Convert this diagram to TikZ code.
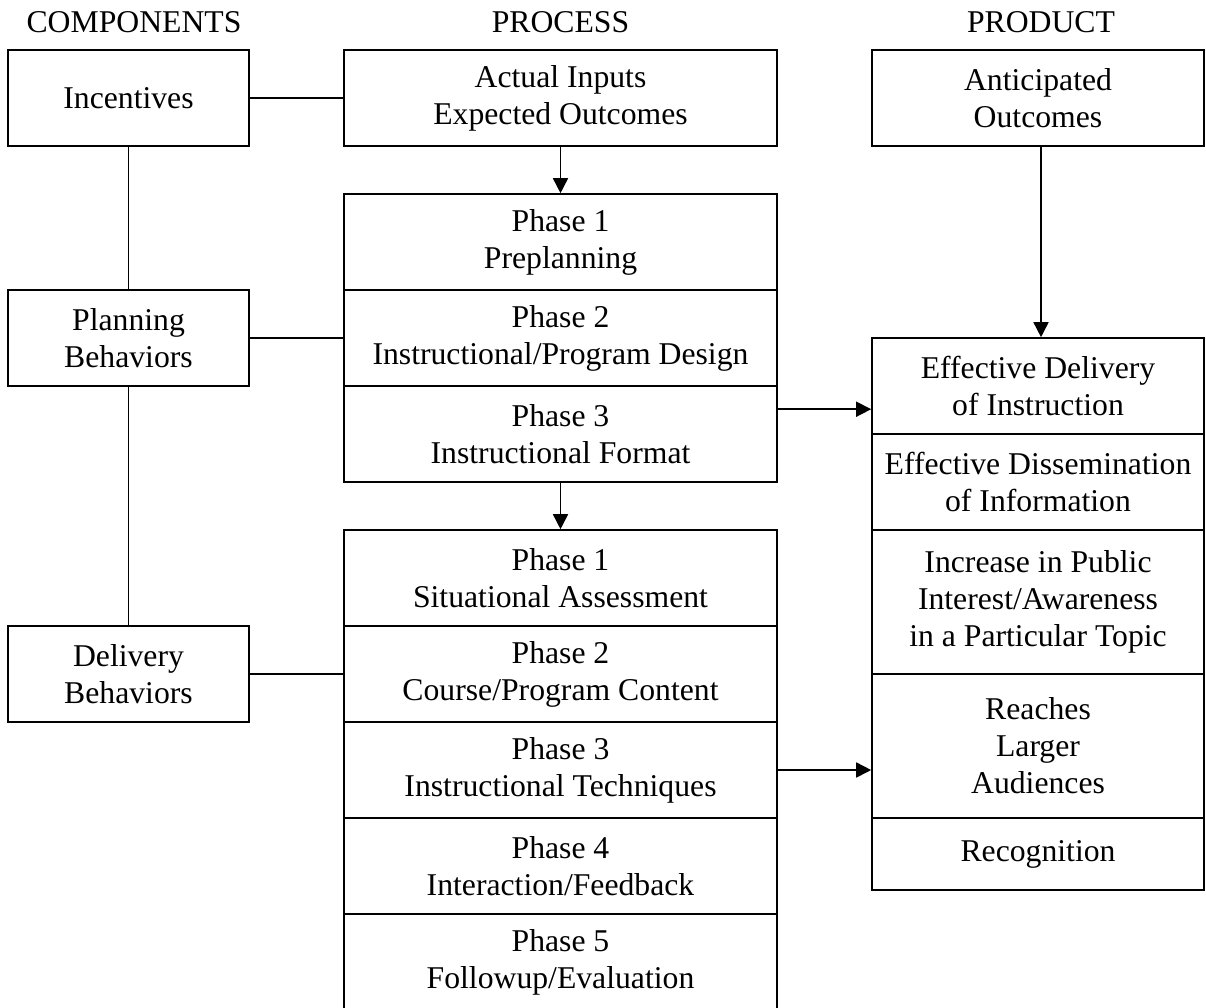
\documentclass[tikz,border=0pt]{standalone}
\usepackage{fontspec}
\setmainfont{Liberation Serif}
\usetikzlibrary{arrows.meta}
\begin{document}
\begin{tikzpicture}[x=1pt,y=-1pt,
  box/.style={draw, line width=1.6pt, inner sep=0pt, align=center,
    font=\fontsize{31.7}{37}\selectfont, minimum height=96pt},
  lbox/.style={box, minimum width=241pt},
  pbox/.style={box, minimum width=433pt},
  rbox/.style={box, minimum width=332pt},
  head/.style={anchor=base, font=\fontsize{31.7}{37}\selectfont, inner sep=0pt},
  link/.style={line width=1.6pt},
  arr/.style={line width=1.6pt, -{Triangle[length=15pt,width=15pt]}}]
\useasboundingbox (0,0) rectangle (1206,1007);
\begin{scope}
\clip (0,0) rectangle (1206,1007);
% headers
\node[head] (hc) at (134,32) {COMPONENTS};
\node[head] (hp) at (560.5,32) {PROCESS};
\node[head] (hr) at (1041,32) {PRODUCT};
% components
\node[lbox] (inc) at (128.5,98) {Incentives};
\node[lbox] (plan) at (128.5,338) {Planning\\Behaviors};
\node[lbox] (del) at (128.5,674) {Delivery\\Behaviors};
% process
\node[pbox] (act) at (560.5,98) {Actual Inputs\\Expected Outcomes};
\node[pbox] (p11) at (560.5,242) {Phase 1\\Preplanning};
\node[pbox] (p12) at (560.5,338) {Phase 2\\Instructional/Program Design};
\node[pbox] (p13) at (560.5,434) {Phase 3\\Instructional Format};
\node[pbox] (p21) at (560.5,578) {Phase 1\\Situational Assessment};
\node[pbox] (p22) at (560.5,674) {Phase 2\\Course/Program Content};
\node[pbox] (p23) at (560.5,770) {Phase 3\\Instructional Techniques};
\node[pbox] (p24) at (560.5,866) {Phase 4\\Interaction/Feedback};
\node[pbox] (p25) at (560.5,962) {Phase 5\\Followup/Evaluation};
% product
\node[rbox] (ant) at (1038,98) {Anticipated\\Outcomes};
\node[rbox] (r1) at (1038,386) {Effective Delivery\\of Instruction};
\node[rbox] (r2) at (1038,482) {Effective Dissemination\\of Information};
\node[rbox, minimum height=144pt] (r3) at (1038,602) {Increase in Public\\Interest/Awareness\\in a Particular Topic};
\node[rbox, minimum height=144pt] (r4) at (1038,746) {Reaches\\Larger\\Audiences};
\node[rbox, minimum height=72pt] (r5) at (1038,854) {Recognition};
% connectors
\draw[link] (inc.east) -- (act.west);
\draw[link] (plan.east) -- (p12.west);
\draw[link] (del.east) -- (p22.west);
\draw[link] (inc.south) -- (plan.north);
\draw[link] (plan.south) -- (del.north);
\draw[arr] (act.south) -- (p11.north);
\draw[arr] (p13.south) -- (p21.north);
\draw[arr] (ant.south -| 1041,0) coordinate (antb) -- (antb |- r1.north);
\draw[arr] (p13.north east) ++(0,24) coordinate (a1) -- (a1 -| r1.west);
\draw[arr] (p23.east) -- (p23.east -| r4.west);
\end{scope}
\end{tikzpicture}
\end{document}
